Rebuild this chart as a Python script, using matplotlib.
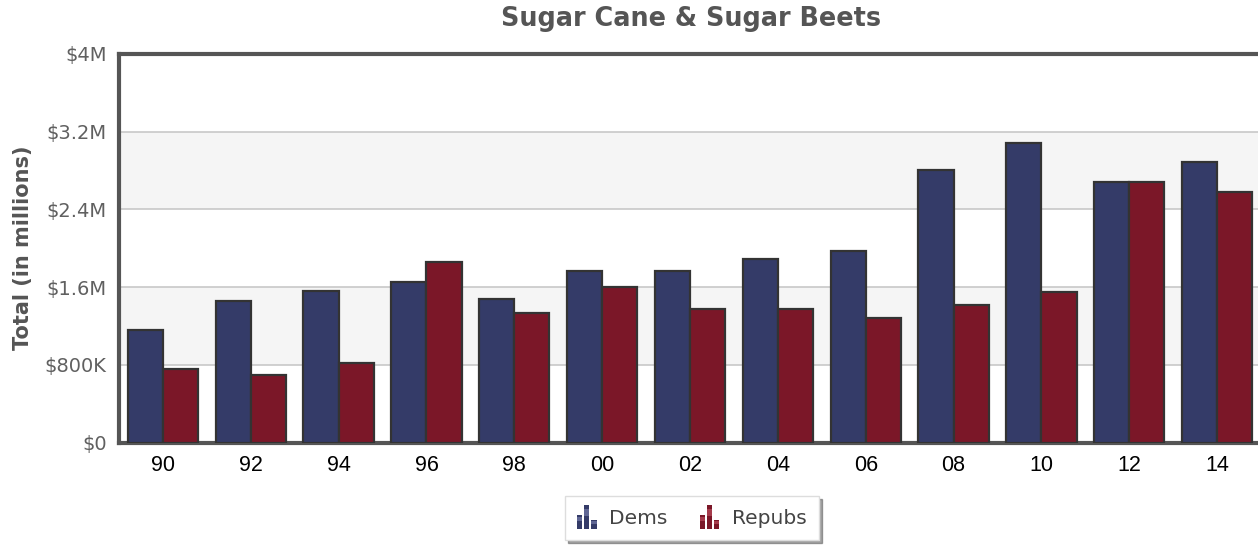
import matplotlib
matplotlib.use("Agg")
import matplotlib.pyplot as plt
from matplotlib.patches import Rectangle
from matplotlib.legend_handler import HandlerBase
from matplotlib.ticker import FixedLocator

# Election cycles and contribution totals (millions of dollars)
cycles = ["90", "92", "94", "96", "98", "00", "02", "04", "06", "08", "10", "12", "14"]
dems = [1.154, 1.458, 1.561, 1.648, 1.482, 1.768, 1.768, 1.889, 1.975, 2.81, 3.08, 2.686, 2.89]
repubs = [0.758, 0.699, 0.820, 1.855, 1.337, 1.602, 1.372, 1.372, 1.278, 1.416, 1.545, 2.686, 2.58]
y_ticks = [0, 0.8, 1.6, 2.4, 3.2, 4.0]
y_labels = ["$0", "$800K", "$1.6M", "$2.4M", "$3.2M", "$4M"]

DEM_COLOR = "#343b68"
REP_COLOR = "#7b1728"
EDGE = "#333333"

fig = plt.figure(figsize=(12.58, 5.46), dpi=100)
ax = fig.add_axes([119 / 1258, 103.5 / 546, 1142 / 1258, 388.5 / 546])

# alternating plot bands
for lo, hi in [(0.8, 1.6), (2.4, 3.2)]:
    ax.axhspan(lo, hi, color="#f5f5f5", zorder=0, lw=0)

x = list(range(len(cycles)))
w = 0.4
ax.bar([i - w / 2 for i in x], dems, width=w, color=DEM_COLOR, edgecolor=EDGE,
       linewidth=1.6, zorder=3, label="Dems")
ax.bar([i + w / 2 for i in x], repubs, width=w, color=REP_COLOR, edgecolor=EDGE,
       linewidth=1.6, zorder=3, label="Repubs")

ax.set_xlim(-0.5, len(cycles) - 0.5)
ax.set_ylim(0, 4.0)
ax.yaxis.set_major_locator(FixedLocator(y_ticks))
ax.set_yticklabels(y_labels)
ax.set_xticks(x)
ax.set_xticklabels(cycles, fontfamily="Liberation Sans", fontsize=15.5, color="black")
ax.grid(axis="y", color="#c8c8c8", linewidth=1.2, zorder=1)
ax.tick_params(axis="y", length=0, pad=9, labelsize=14, labelcolor="#606060")
ax.tick_params(axis="x", length=0, pad=9)

for side in ["left", "top", "bottom"]:
    ax.spines[side].set_color("#555555")
    ax.spines[side].set_linewidth(3)
ax.spines["right"].set_visible(False)

ax.set_ylabel("Total (in millions)", fontsize=15, fontweight="bold", color="#555555", labelpad=8.5)
fig.text(0.549, 0.965, "Sugar Cane & Sugar Beets", ha="center", va="center",
         fontsize=18.4, fontweight="bold", color="#555555")


class BarIconHandler(HandlerBase):
    """Small three-bar column-chart glyph used as a legend key."""

    def __init__(self, color, light):
        super().__init__()
        self.color = color
        self.light = light

    def create_artists(self, legend, orig_handle, xdescent, ydescent, width, height, fontsize, trans):
        bw = width / 3.8
        heights = [0.6, 1.0, 0.4]
        arts = []
        for k, hf in enumerate(heights):
            x0 = -xdescent + k * bw * 1.35
            y0 = -ydescent - 2
            h = (height + 4) * hf
            arts.append(Rectangle((x0, y0), bw, h, facecolor=self.color,
                                  edgecolor="none", transform=trans))
            # lighter upper band gives the glyph its sheen
            arts.append(Rectangle((x0, y0 + h * 0.55), bw, h * 0.3, facecolor=self.light,
                                  edgecolor="none", alpha=0.5, transform=trans))
        return arts


h_d = Rectangle((0, 0), 1, 1)
h_r = Rectangle((0, 0), 1, 1)
leg = fig.legend([h_d, h_r], ["Dems", "Repubs"], loc="center", bbox_to_anchor=(0.55, 0.051),
                 ncol=2, frameon=True, fancybox=False, shadow=True, fontsize=14.5,
                 handler_map={h_d: BarIconHandler(DEM_COLOR, "#8a92c0"),
                              h_r: BarIconHandler(REP_COLOR, "#d06070")},
                 handlelength=1.0, handleheight=1.0, handletextpad=0.6, columnspacing=1.6,
                 borderpad=0.6, labelcolor="#444444")
leg.get_frame().set_edgecolor("#dddddd")
leg.get_frame().set_linewidth(1)

fig.savefig("out.png", dpi=100)
